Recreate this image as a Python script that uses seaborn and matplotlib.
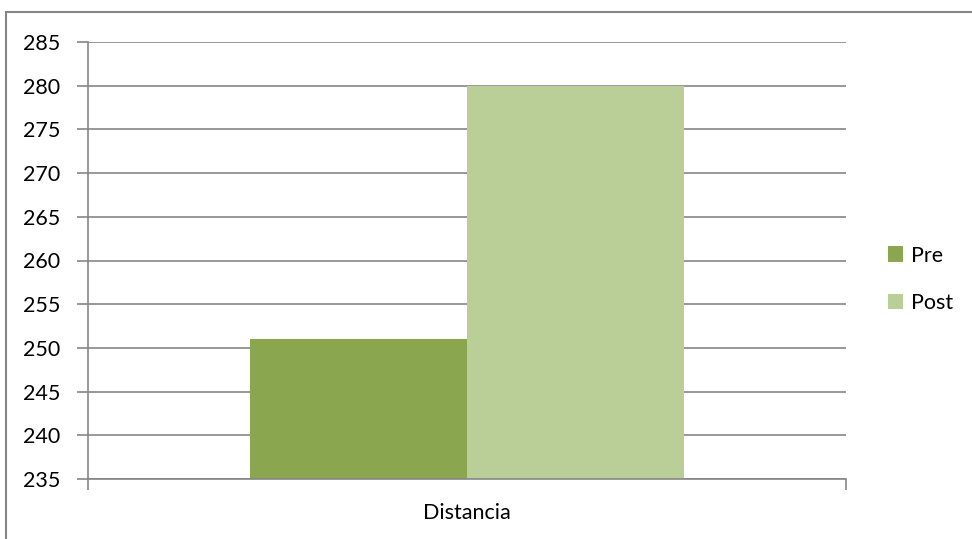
import matplotlib
matplotlib.use("Agg")
import matplotlib.pyplot as plt
from matplotlib.patches import Rectangle
import seaborn as sns
import pandas as pd

# Données
categorias = ["Distancia", "Distancia"]
grupos = ["Pre", "Post"]
valores = [251, 280]
y_ticks = list(range(235, 286, 5))
colores = {"Pre": "#8AA64F", "Post": "#BACF98"}

df = pd.DataFrame({"categoria": categorias, "grupo": grupos, "valor": valores})

sns.set_style("white")
plt.rcParams["font.family"] = ["Lato", "DejaVu Sans"]
plt.rcParams["text.color"] = "black"

gris = "#868686"
fig = plt.figure(figsize=(9.72, 5.39), dpi=100)
ax = fig.add_axes([88 / 972, 1 - 479 / 539, (846 - 88) / 972, (479 - 42) / 539])

sns.barplot(data=df, x="categoria", y="valor", hue="grupo", palette=colores,
            width=0.5726, saturation=1, ax=ax, legend=False, linewidth=0)

ax.set_xlim(-0.5, 0.5)
ax.set_ylim(235, 285)
ax.set_yticks(y_ticks)
ax.set_xlabel("")
ax.set_ylabel("")

# Grille et axes façon Excel
ax.set_axisbelow(True)
ax.yaxis.grid(True, color=gris, lw=1.2)
for s in ["top", "right"]:
    ax.spines[s].set_visible(False)
for s in ["left", "bottom"]:
    ax.spines[s].set_color(gris)
    ax.spines[s].set_linewidth(1.2)

ax.tick_params(axis="y", length=8, width=1.2, color=gris, labelsize=15.5,
               labelcolor="black", pad=12, left=True)
ax.tick_params(axis="x", which="major", length=0, labelsize=15.5,
               labelcolor="black", pad=17)
ax.set_xticks([-0.5, 0.5], minor=True)
ax.tick_params(axis="x", which="minor", length=8, width=1.2, color=gris,
               bottom=True)

# Légende
handles = [Rectangle((0, 0), 1, 1, color=colores[g], lw=0) for g in grupos]
fig.legend(handles, grupos, loc="center left",
           bbox_to_anchor=(869 / 972, 1 - 279.5 / 539), frameon=False,
           fontsize=15.5, handlelength=0.7, handleheight=0.7,
           handletextpad=0.35, labelspacing=1.3)

# Cadre du graphique
fig.patches.append(Rectangle((5.5 / 972, -0.1), 1.2, 1 - 12.5 / 539 + 0.1,
                             transform=fig.transFigure, fill=False,
                             edgecolor=gris, lw=1.5))

fig.savefig("out.png", dpi=100)
